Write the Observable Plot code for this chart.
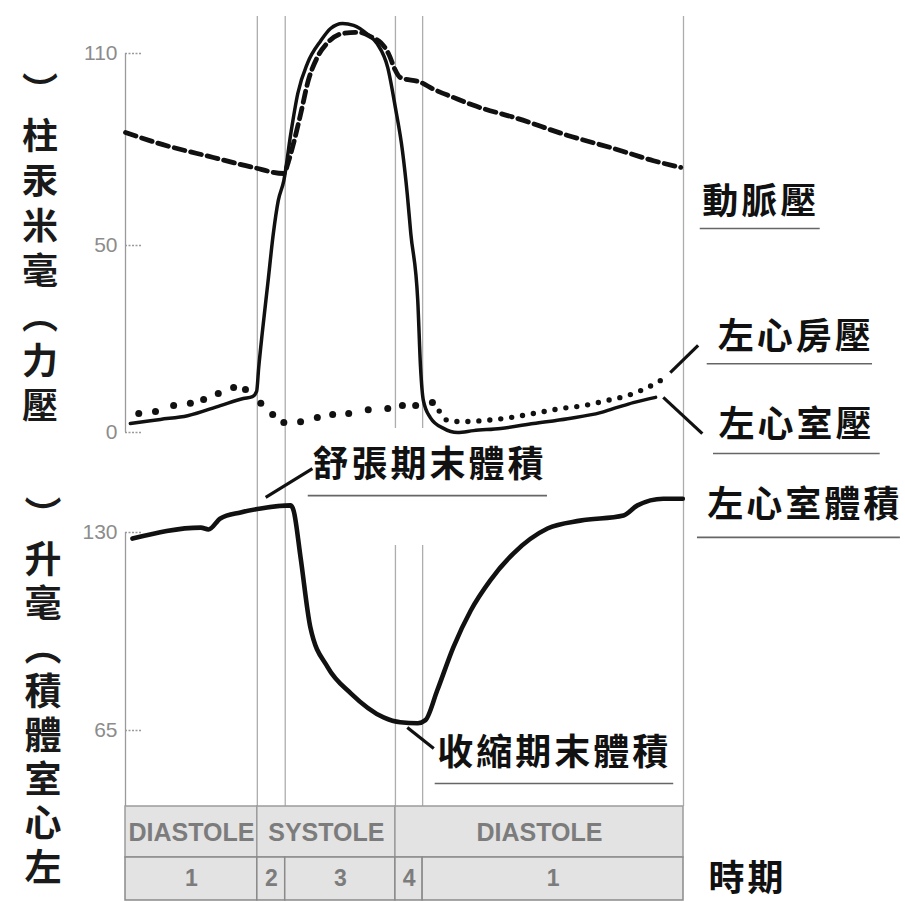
<!DOCTYPE html>
<html><head><meta charset="utf-8">
<script src="https://cdn.jsdelivr.net/npm/d3@7"></script>
<script src="https://cdn.jsdelivr.net/npm/@observablehq/plot@0.6"></script>
<style>
html,body{margin:0;padding:0;background:#fff;}
#fig{position:relative;width:905px;height:902px;overflow:hidden;}
.vt{position:absolute;writing-mode:vertical-rl;font-family:"Noto Sans CJK TC";font-weight:700;color:#1a1a1a;line-height:1;white-space:nowrap;}
</style></head><body><div id="fig"></div>
<script>
// ---------- data (time in ms over one cardiac cycle) ----------
const phaseBounds = [0, 189, 229, 387, 426, 800];
const phaseNames = ["1", "2", "3", "4", "1"];
const stageNames = ["DIASTOLE", "SYSTOLE", "DIASTOLE"];
const stageStart = [0, 189, 387];
const stageEnd = [189, 387, 800];

const pressureTicks = [0, 50, 110];
const volumeTicks = [65, 130];

// left ventricular pressure (mmHg)
const lvpTime = [7, 50, 89, 136, 169, 182, 188, 191, 196, 204, 212, 219, 227, 237, 247, 261, 280, 294, 311, 327, 347, 361, 376, 387, 397, 404, 409, 419, 423, 427, 437, 456, 476, 499, 538, 585, 634, 681, 705, 728, 760];
const lvpValue = [2.4, 3.5, 4.5, 7.2, 9.1, 9.6, 11, 17.4, 26.5, 39.8, 53.8, 64, 70.3, 85, 97.5, 107, 114, 117.8, 119.4, 118.8, 116, 113, 105.6, 93, 79.7, 66, 53.8, 35.3, 17.4, 8.6, 4.0, 1.1, 0, 0.5, 1.1, 2.4, 3.7, 5.3, 6.7, 8.0, 9.4];

// aortic (arterial) pressure (mmHg)
const aopTime = [0, 46, 126, 183, 227, 234, 241, 251, 262, 275, 290, 313, 334, 354, 366, 377, 387, 394, 423, 442, 470, 499, 562, 634, 700, 757, 796];
const aopValue = [85.3, 82, 77.5, 74.4, 72.5, 76.5, 82, 91, 101.5, 108.8, 113.4, 116.3, 116.6, 115, 113.4, 110, 104.7, 102.5, 101, 98.8, 96.3, 93.8, 89.7, 84.4, 80.3, 76.5, 74.4];

// left atrial pressure (mmHg)
const lapTime = [19, 43, 69, 93, 112, 133, 155, 172, 194, 211, 227, 251, 275, 297, 320, 348, 376, 397, 416, 440, 449, 462, 483, 513, 552, 585, 624, 657, 691, 720, 748, 767];
const lapValue = [5.1, 5.6, 7.2, 7.8, 8.8, 10.4, 12, 11.5, 7.8, 4.8, 2.7, 2.9, 4.0, 4.8, 5.1, 6.1, 6.4, 7.2, 7.2, 8.0, 5.9, 3.2, 2.9, 3.2, 4.0, 5.1, 6.4, 7.2, 8.6, 9.9, 12, 13.9];

// left ventricular volume (ml)
const lvvTime = [10, 108, 119, 136, 165, 194, 237, 241, 251, 265, 290, 323, 370, 394, 419, 430, 447, 470, 495, 523, 556, 605, 652, 714, 734, 771, 799];
const lvvValue = [128.0, 131.6, 131.0, 134.6, 136.6, 137.9, 138.9, 137.2, 121.8, 98.9, 85.7, 77.2, 69.3, 67.7, 67.4, 68.4, 78.2, 92.3, 104.4, 114.3, 123.1, 131.3, 133.9, 135.6, 138.9, 141.1, 141.1];

// annotation labels (anchored in data space)
const pLabelText = ["動脈壓", "左心房壓", "左心室壓"];
const pLabelT = [827, 849, 850];
const pLabelV = [63.4, 25.4, 1.9];
const pUnderT1 = [824, 834, 843];
const pUnderT2 = [996, 1071, 1082];
const pUnderV = [55.3, 18.4, -5.6];
const pLeadT1 = [781, 771], pLeadV1 = [16.0, 9.4], pLeadT2 = [821, 827], pLeadV2 = [23.3, -0.3];

const vLabelText = ["左心室體積", "舒張期末體積", "收縮期末體積"];
const vLabelT = [834, 268, 447];
const vLabelV = [138.9, 152, 57.4];
const vUnderT1 = [820, 262, 444];
const vUnderT2 = [1111, 605, 786];
const vUnderV = [128.4, 142.1, 47.6];
const vLeadT1 = [201, 404], vLeadV1 = [141.5, 66.0], vLeadT2 = [268, 442], vLeadV2 = [151.0, 59.1];

const periodLabel = "時期";
const periodT = 836;
const pressureTitle = "壓力（毫米汞柱）";
const volumeTitle = "左心室體積（毫升）";

// ---------- build ----------
// the printed pressure axis is compressed above 50 mmHg (0–50 and 50–110 drawn at different rates)
const pT = p => p <= 50 ? p : 50 + (p - 50) * (3.2 / 3.74);

const zip2 = (a, b) => a.map((t, i) => ({t, v: b[i]}));
const lvp = zip2(lvpTime, lvpValue);
const aop = zip2(aopTime, aopValue);
const lap = zip2(lapTime, lapValue);
const lvv = zip2(lvvTime, lvvValue);
const lapSparse = lap.filter(d => d.t <= 440);
const lapDense = lap.filter(d => d.t >= 440);
const mkLabels = (tx, t, v, u1, u2, uv) => tx.map((text, i) => ({text, t: t[i], v: v[i], u1: u1[i], u2: u2[i], uv: uv[i]}));
const pLabels = mkLabels(pLabelText, pLabelT, pLabelV, pUnderT1, pUnderT2, pUnderV);
const vLabels = mkLabels(vLabelText, vLabelT, vLabelV, vUnderT1, vUnderT2, vUnderV);
const pLeads = pLeadT1.map((t1, i) => ({t1, v1: pLeadV1[i], t2: pLeadT2[i], v2: pLeadV2[i]}));
const vLeads = vLeadT1.map((t1, i) => ({t1, v1: vLeadV1[i], t2: vLeadT2[i], v2: vLeadV2[i]}));
const stages = stageNames.map((name, i) => ({name, a: stageStart[i], b: stageEnd[i]}));
const phases = phaseNames.map((name, i) => ({name, a: phaseBounds[i], b: phaseBounds[i + 1]}));
const fullRules = [phaseBounds[1], phaseBounds[2], phaseBounds[5]];
const midRules = [phaseBounds[3], phaseBounds[4]];

const W = 905, ML = 125, MR = 222;
const CJK = "Noto Sans CJK TC";
const RULE = "#adadad";
const base = {
  width: W, marginLeft: ML, marginRight: MR,
  style: {background: "transparent", overflow: "visible"},
  x: {domain: [0, 800], axis: null}
};
const fig = document.getElementById("fig");
function place(el, top) {
  el.style.position = "absolute"; el.style.left = "0px"; el.style.top = top + "px";
  fig.appendChild(el);
}
function spacing(svg, px) {
  d3.select(svg).selectAll(`g[font-family="${CJK}"]`).style("letter-spacing", px + "px");
}
const py = d => pT(d.v);

// pressure panel
const A = Plot.plot({
  ...base, height: 445, marginTop: 16, marginBottom: 0,
  y: {domain: [pT(0), pT(110)], range: [432, 53], axis: null},
  marks: [
    Plot.ruleX(fullRules, {stroke: RULE, strokeWidth: 1.3}),
    Plot.ruleX(midRules, {stroke: RULE, strokeWidth: 1.3, insetBottom: 17}),
    Plot.ruleX([0], {y1: pT(0), y2: pT(110), stroke: "#9a9a9a", strokeWidth: 1.3}),
    Plot.ruleY(pressureTicks, {y: d => pT(d), x1: 0, x2: 24, stroke: "#9a9a9a", strokeWidth: 1.5, strokeDasharray: "2,1.5"}),
    Plot.text(pressureTicks, {x: 0, y: d => pT(d), text: d => String(d), dx: -8, textAnchor: "end", fontSize: 21, fill: "#8c8c8c", fontFamily: "Liberation Sans"}),
    Plot.line(aop, {x: "t", y: py, stroke: "#111", strokeWidth: 4.8, strokeDasharray: "11,6", curve: "monotone-x"}),
    Plot.line(lvp, {x: "t", y: py, stroke: "#111", strokeWidth: 3.5, curve: "monotone-x"}),
    Plot.dot(lapSparse, {x: "t", y: py, r: 3.5, fill: "#111"}),
    Plot.line(lapDense, {x: "t", y: py, stroke: "#111", strokeWidth: 5.4, strokeDasharray: "0,11", strokeLinecap: "round", curve: "monotone-x"}),
    Plot.link(pLeads, {x1: "t1", y1: d => pT(d.v1), x2: "t2", y2: d => pT(d.v2), stroke: "#111", strokeWidth: 3.2}),
    Plot.ruleY(pLabels, {y: d => pT(d.uv), x1: "u1", x2: "u2", stroke: "#666", strokeWidth: 1.6}),
    Plot.text(pLabels, {x: "t", y: py, text: "text", textAnchor: "start", fontSize: 36, fontWeight: 700, fontFamily: CJK, fill: "#111"})
  ]
});
spacing(A, 3);
place(A, 0);

// volume panel
const B = Plot.plot({
  ...base, height: 361, marginTop: 0, marginBottom: 0,
  y: {domain: [65, 130], range: [285, 87], axis: null},
  marks: [
    Plot.ruleX(fullRules, {stroke: RULE, strokeWidth: 1.3}),
    Plot.ruleX(midRules, {stroke: RULE, strokeWidth: 1.3, insetTop: 100}),
    Plot.ruleX([0], {y1: 40, y2: 130, stroke: "#9a9a9a", strokeWidth: 1.3}),
    Plot.ruleY(volumeTicks, {y: d => d, x1: 0, x2: 24, stroke: "#9a9a9a", strokeWidth: 1.5, strokeDasharray: "2,1.5"}),
    Plot.text(volumeTicks, {x: 0, y: d => d, text: d => String(d), dx: -8, textAnchor: "end", fontSize: 21, fill: "#8c8c8c", fontFamily: "Liberation Sans"}),
    Plot.line(lvv, {x: "t", y: "v", stroke: "#111", strokeWidth: 4.6, curve: "monotone-x"}),
    Plot.link(vLeads, {x1: "t1", y1: "v1", x2: "t2", y2: "v2", stroke: "#111", strokeWidth: 3.2}),
    Plot.ruleY(vLabels, {y: "uv", x1: "u1", x2: "u2", stroke: "#666", strokeWidth: 1.6}),
    Plot.text(vLabels, {x: "t", y: "v", text: "text", textAnchor: "start", fontSize: 36, fontWeight: 700, fontFamily: CJK, fill: "#111"})
  ]
});
spacing(B, 3);
place(B, 445);

// stage row
const C1 = Plot.plot({
  ...base, height: 51, marginTop: 0, marginBottom: 0,
  marks: [
    Plot.rect(stages, {x1: "a", x2: "b", fill: "#e3e3e3", stroke: "#9c9c9c", strokeWidth: 1.5}),
    Plot.text(stages, {x: d => (d.a + d.b) / 2, text: "name", fontSize: 25, fontWeight: 700, fontFamily: "Liberation Sans", fill: "#7c7c7c", dy: 1})
  ]
});
place(C1, 806);

// phase row
const C2 = Plot.plot({
  ...base, height: 43, marginTop: 0, marginBottom: 0,
  marks: [
    Plot.rect(phases, {x1: "a", x2: "b", fill: "#e3e3e3", stroke: "#8a8a8a", strokeWidth: 1.5}),
    Plot.text(phases, {x: d => (d.a + d.b) / 2, text: "name", fontSize: 23, fontWeight: 700, fontFamily: "Liberation Sans", fill: "#7c7c7c"}),
    Plot.text([periodLabel], {x: periodT, text: d => d, textAnchor: "start", fontSize: 36, fontWeight: 700, fontFamily: CJK, fill: "#111"})
  ]
});
spacing(C2, 3);
place(C2, 857);

// vertical axis titles (upright characters, read bottom to top)
function vtitle(str, left, top, size, ls) {
  const d = document.createElement("div");
  d.className = "vt";
  d.textContent = Array.from(str).reverse().join("");
  d.style.left = left + "px"; d.style.top = top + "px";
  d.style.fontSize = size + "px"; d.style.letterSpacing = ls + "px";
  fig.appendChild(d);
}
vtitle(pressureTitle, 22, 72, 36, 9);
vtitle(volumeTitle, 24, 496, 37, 7);
</script></body></html>
